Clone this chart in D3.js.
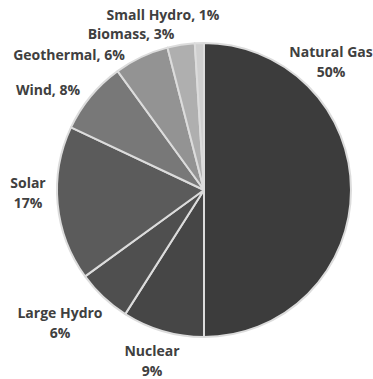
<!DOCTYPE html>
<html><head><meta charset="utf-8">
<script src="https://cdn.jsdelivr.net/npm/d3@7"></script>
<style>html,body{margin:0;padding:0;background:#fff;}svg{display:block;}</style>
</head><body>
<svg id="c" width="373" height="379"></svg>
<script>
const categories = ["Natural Gas","Nuclear","Large Hydro","Solar","Wind","Geothermal","Biomass","Small Hydro"];
const values = [50, 9, 6, 17, 8, 6, 3, 1];
const colors = ["#3c3c3c","#464646","#4f4f4f","#5b5b5b","#787878","#939393","#afafaf","#cfcfcf"];
// label lines per slice (two-line or single-line form)
const labelLines = [
  ["Natural Gas","50%"],["Nuclear","9%"],["Large Hydro","6%"],["Solar","17%"],
  ["Wind, 8%"],["Geothermal, 6%"],["Biomass, 3%"],["Small Hydro, 1%"]
];
const labelPos = [[331,52],[152,351],[60,313],[28,183],[48,90],[69,55],[131,34],[163,15]];

const svg = d3.select("#c");
const cx = 204, cy = 190, r = 147;
const data = categories.map((c,i)=>({name:c, value:values[i], i}));
const pie = d3.pie().value(d=>d.value).sort(null);
const arc = d3.arc().innerRadius(0).outerRadius(r);
const g = svg.append("g").attr("transform",`translate(${cx},${cy})`);
g.selectAll("path").data(pie(data)).join("path")
  .attr("d",arc).attr("fill",d=>colors[d.data.i])
  .attr("stroke","#dcdcdc").attr("stroke-width",2).attr("stroke-linejoin","round");

const lg = svg.append("g").attr("font-family","'Open Sans', Lato, sans-serif")
  .attr("font-weight","bold").attr("font-size",14).attr("fill","#404040").attr("text-anchor","middle");
data.forEach((d,i)=>{
  const [x,y] = labelPos[i];
  labelLines[i].forEach((t,j)=>{
    lg.append("text").attr("x",x).attr("y",y+j*20).attr("dy","0.35em").text(t);
  });
});
</script>
</body></html>
